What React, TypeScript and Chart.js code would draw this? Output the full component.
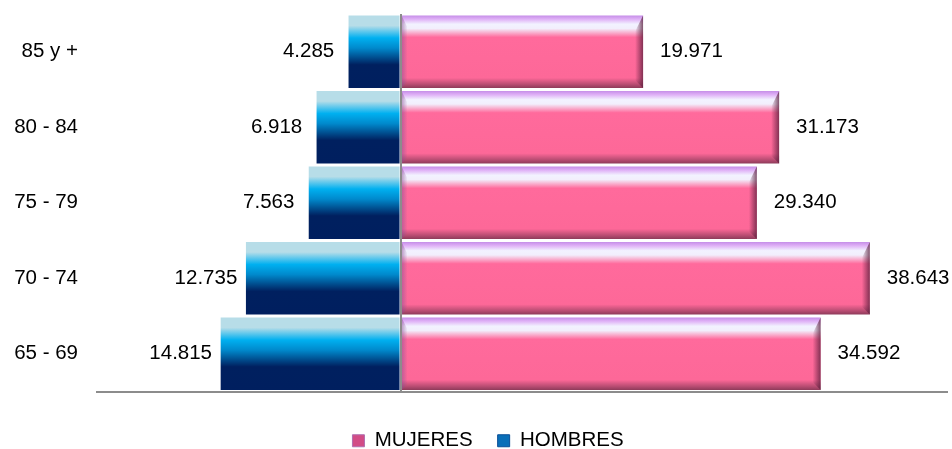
import React, { useEffect, useRef } from "react";
import { Chart, registerables } from "chart.js";

Chart.register(...registerables);

const categories = ["85 y +", "80 - 84", "75 - 79", "70 - 74", "65 - 69"];
const mujeres = [19971, 31173, 29340, 38643, 34592];
const hombres = [4285, 6918, 7563, 12735, 14815];
const seriesNames = ["MUJERES", "HOMBRES"];

const FONT = '"Liberation Sans", Arial, sans-serif';
const FONT_SIZE = 20.5;
const BAR_PCT = 0.96;

function fmt(v: number): string {
  return String(Math.round(Math.abs(v))).replace(/\B(?=(\d{3})+(?!\d))/g, ".");
}

function barSpan(chart: any, index: number): [number, number] | null {
  const y = chart.scales && chart.scales.y;
  if (!y) return null;
  const c = y.getPixelForValue(index);
  const band = (y.bottom - y.top) / categories.length;
  const h = band * BAR_PCT;
  if (!isFinite(c) || !isFinite(h) || h <= 0) return null;
  return [c - h / 2, c + h / 2];
}

function blueFill(context: any) {
  const chart = context.chart;
  const span = barSpan(chart, context.dataIndex);
  if (!span) return "#0070c0";
  const g = chart.ctx.createLinearGradient(0, span[0], 0, span[1]);
  g.addColorStop(0, "#b7dde8");
  g.addColorStop(0.14, "#b7dde8");
  g.addColorStop(0.31, "#00b0f0");
  g.addColorStop(0.45, "#0089cc");
  g.addColorStop(0.68, "#00205f");
  g.addColorStop(1, "#001f5f");
  return g;
}

function pinkFill(context: any) {
  const chart = context.chart;
  const span = barSpan(chart, context.dataIndex);
  if (!span) return "#ff6a9c";
  const g = chart.ctx.createLinearGradient(0, span[0], 0, span[1]);
  g.addColorStop(0, "#c58ee8");
  g.addColorStop(0.05, "#dfb0f6");
  g.addColorStop(0.12, "#f2f2ff");
  g.addColorStop(0.18, "#f2eefc");
  g.addColorStop(0.3, "#ff6a9c");
  g.addColorStop(0.86, "#fd6898");
  g.addColorStop(0.95, "#b84c72");
  g.addColorStop(1, "#8e3a5a");
  return g;
}

const bevelPlugin = {
  id: "bevel",
  afterDatasetDraw(chart: any, args: any) {
    if (args.index !== 0) return;
    const ctx = chart.ctx;
    const meta = chart.getDatasetMeta(0);
    ctx.save();
    meta.data.forEach((el: any) => {
      const right = el.x;
      const top = el.y - el.height / 2;
      const bottom = el.y + el.height / 2;
      const w = 8;
      const g = ctx.createLinearGradient(right - w, 0, right, 0);
      g.addColorStop(0, "rgba(90,30,60,0)");
      g.addColorStop(1, "rgba(90,30,60,0.75)");
      ctx.fillStyle = g;
      ctx.beginPath();
      ctx.moveTo(right, top);
      ctx.lineTo(right, bottom);
      ctx.lineTo(right - w, bottom - w);
      ctx.lineTo(right - w, top + w * 2);
      ctx.closePath();
      ctx.fill();
      const lg = ctx.createLinearGradient(el.base, 0, el.base + 6, 0);
      lg.addColorStop(0, "rgba(140,80,150,0.55)");
      lg.addColorStop(1, "rgba(140,80,150,0)");
      ctx.fillStyle = lg;
      ctx.beginPath();
      ctx.moveTo(el.base, top);
      ctx.lineTo(el.base + 6, top + 12);
      ctx.lineTo(el.base + 6, bottom - 6);
      ctx.lineTo(el.base, bottom);
      ctx.closePath();
      ctx.fill();
    });
    ctx.restore();
  },
};

const valueLabels = {
  id: "valueLabels",
  afterDatasetsDraw(chart: any) {
    const ctx = chart.ctx;
    ctx.save();
    ctx.font = FONT_SIZE + "px " + FONT;
    ctx.fillStyle = "#000";
    ctx.textBaseline = "middle";
    chart.data.datasets.forEach((ds: any, di: number) => {
      const meta = chart.getDatasetMeta(di);
      meta.data.forEach((el: any, i: number) => {
        const v = ds.data[i] as number;
        const txt = fmt(v);
        if (v < 0) {
          ctx.textAlign = "center";
          ctx.fillText(txt, el.x - 40, el.y);
        } else {
          ctx.textAlign = "left";
          ctx.fillText(txt, el.x + 17, el.y);
        }
      });
    });
    ctx.restore();
  },
};

const legendShift = {
  id: "legendShift",
  afterLayout(chart: any) {
    if (chart.legend) chart.legend.left = 29;
  },
};

export default function App() {
  const ref = useRef<HTMLCanvasElement | null>(null);

  useEffect(() => {
    document.body.style.margin = "0";
    if (!ref.current) return;
    const chart = new Chart(ref.current, {
      type: "bar",
      data: {
        labels: categories,
        datasets: [
          {
            label: seriesNames[0],
            data: mujeres,
            backgroundColor: pinkFill as any,
            borderWidth: 0,
            barPercentage: BAR_PCT,
            categoryPercentage: 1,
          },
          {
            label: seriesNames[1],
            data: hombres.map((v) => -v),
            backgroundColor: blueFill as any,
            borderWidth: 0,
            barPercentage: BAR_PCT,
            categoryPercentage: 1,
          },
        ],
      },
      options: {
        indexAxis: "y",
        responsive: false,
        animation: false,
        layout: { padding: { top: 14, right: 5, left: 0, bottom: -12 } },
        scales: {
          x: {
            stacked: true,
            min: -25000,
            max: 45000,
            ticks: { display: false, stepSize: 5000 },
            grid: {
              z: 1,
              drawTicks: false,
              lineWidth: 2,
              color: (c: any) => (c.tick && c.tick.value === 0 ? "#8c8c8c" : "rgba(0,0,0,0)"),
            },
            border: { display: true, color: "#8c8c8c", width: 2, z: 2 },
            afterFit: (s: any) => {
              s.height = 14;
              s.paddingLeft = 0;
              s.paddingRight = 0;
            },
          },
          y: {
            stacked: true,
            grid: { display: false, drawTicks: false },
            border: { display: false },
            ticks: {
              padding: 19,
              color: "#000",
              font: { family: FONT, size: FONT_SIZE },
            },
            afterFit: (s: any) => {
              s.width = 97;
              s.paddingTop = 0;
              s.paddingBottom = 0;
            },
          },
        },
        plugins: {
          legend: {
            position: "bottom",
            labels: {
              boxWidth: 12,
              boxHeight: 12,
              padding: 25,
              color: "#000",
              font: { family: FONT, size: FONT_SIZE },
              generateLabels: (ch: any) =>
                ch.data.datasets.map((ds: any, i: number) => ({
                  text: ds.label,
                  fillStyle: i === 0 ? "#d24c86" : "#0a6fb8",
                  strokeStyle: i === 0 ? "#b06fb0" : "#0a4f98",
                  lineWidth: 1,
                  hidden: false,
                  datasetIndex: i,
                  fontColor: "#000",
                })),
            },
          },
          tooltip: { enabled: false },
        },
      },
      plugins: [bevelPlugin, valueLabels, legendShift],
    });
    return () => chart.destroy();
  }, []);

  return (
    <div style={{ width: 952, height: 449 }}>
      <canvas ref={ref} width={952} height={449} />
    </div>
  );
}
